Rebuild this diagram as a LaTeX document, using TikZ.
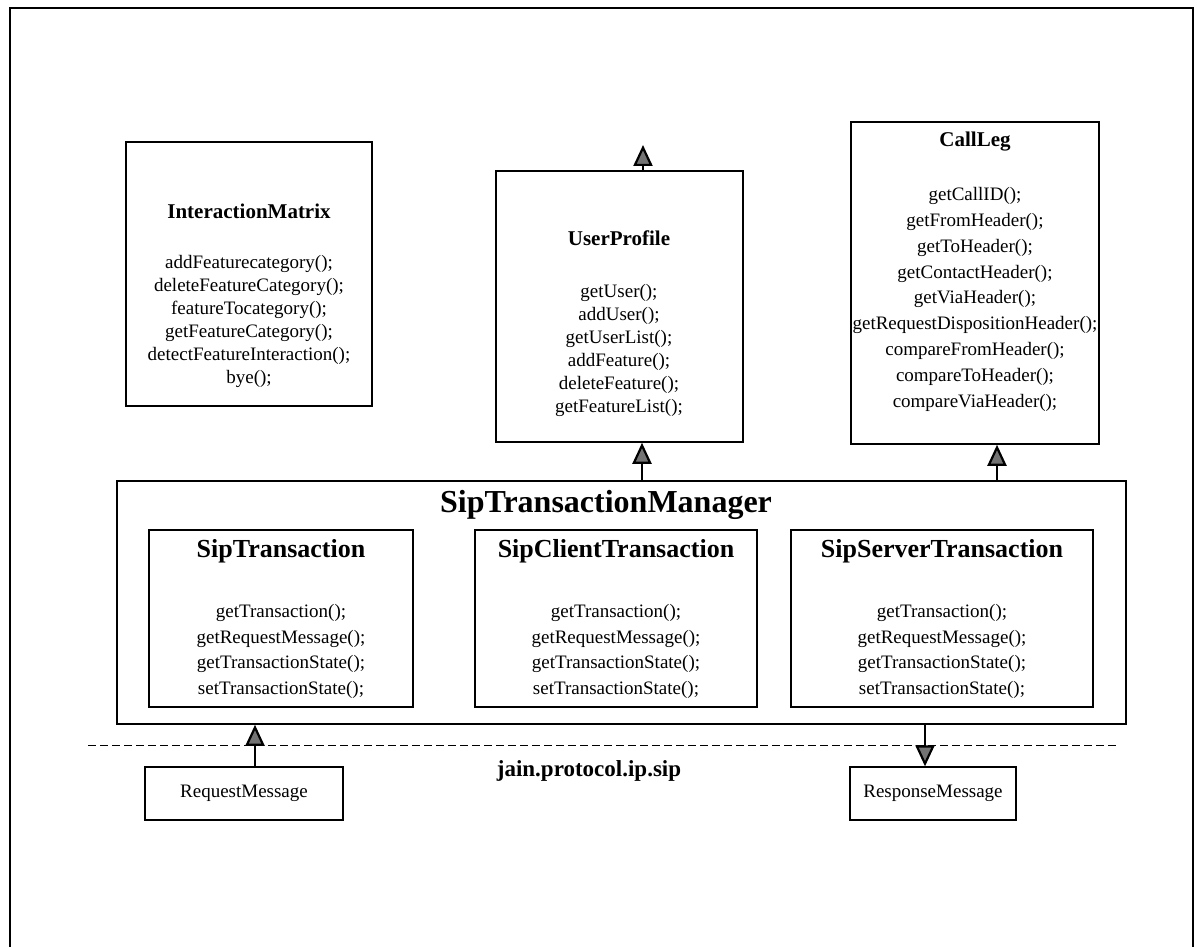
\documentclass[tikz,border=0pt]{standalone}
\usepackage{fontspec}
\setmainfont{Liberation Serif}
\usetikzlibrary{arrows.meta}
\begin{document}
\begin{tikzpicture}[x=1pt,y=-1pt,
  box/.style={draw=black,line width=1.6pt,inner sep=0pt,fill=white},
  msgbox/.style={draw=black,line width=1.3pt,inner sep=0pt},
  ttl/.style={font=\bfseries\fontsize{21}{24}\selectfont,inner sep=0pt},
  subttl/.style={font=\bfseries\fontsize{26}{30}\selectfont,inner sep=0pt},
  mth/.style={font=\fontsize{19}{25.7}\selectfont,align=center,inner sep=0pt,anchor=north},
  mthtight/.style={mth,font=\fontsize{19}{23}\selectfont},
  flow/.style={line width=2.2pt,-{Triangle[width=19pt,length=21pt,fill=black!55]}}
]
\useasboundingbox (0,0) rectangle (1197,947);
% outer frame, open at the bottom
\draw[line width=1.6pt] (10,947) -- (10,8) -- (1193,8) -- (1193,947);

% upper classes
\node[box,minimum width=246pt,minimum height=264pt] (im) at (249,274) {};
\node[ttl] (imt) at (249,211) {InteractionMatrix};
\node[mthtight] (imm) at (249,255) {addFeaturecategory();\\deleteFeatureCategory();\\featureTocategory();\\getFeatureCategory();\\detectFeatureInteraction();\\bye();};

\node[box,minimum width=247pt,minimum height=271pt] (up) at (619.5,306.5) {};
\node[ttl] (upt) at (619,238) {UserProfile};
\node[mthtight] (upm) at (619,284) {getUser();\\addUser();\\getUserList();\\addFeature();\\deleteFeature();\\getFeatureList();};

\node[box,minimum width=248pt,minimum height=322pt] (cl) at (975,283) {};
\node[ttl] (clt) at (975,142) {CallLeg};
\node[mth,font=\fontsize{19}{25.9}\selectfont] (clm) at (975,187) {getCallID();\\getFromHeader();\\getToHeader();\\getContactHeader();\\getViaHeader();\\getRequestDispositionHeader();\\compareFromHeader();\\compareToHeader();\\compareViaHeader();};

% transaction manager and its transactions
\node[box,minimum width=1009pt,minimum height=243pt] (mgr) at (621.5,602.5) {};
\node[font=\bfseries\fontsize{32}{36}\selectfont,inner sep=0pt] (mgrt) at (606,505) {SipTransactionManager};

\node[box,minimum width=264pt,minimum height=177pt] (st) at (281,618.5) {};
\node[subttl] (stt) at (281,551) {SipTransaction};
\node[mth] (stm) at (281,604) {getTransaction();\\getRequestMessage();\\getTransactionState();\\setTransactionState();};

\node[box,minimum width=282pt,minimum height=177pt] (sct) at (616,618.5) {};
\node[subttl] (sctt) at (616,551) {SipClientTransaction};
\node[mth] (sctm) at (616,604) {getTransaction();\\getRequestMessage();\\getTransactionState();\\setTransactionState();};

\node[box,minimum width=302pt,minimum height=177pt] (sst) at (942,618.5) {};
\node[subttl] (sstt) at (942,551) {SipServerTransaction};
\node[mth] (sstm) at (942,604) {getTransaction();\\getRequestMessage();\\getTransactionState();\\setTransactionState();};

% package boundary
\coordinate (dl) at (88,745);
\coordinate (dr) at (1117,745);
\draw[line width=1pt,dash pattern=on 8pt off 4pt] (dl) -- (dr);
\node[font=\bfseries\fontsize{23}{26}\selectfont,inner sep=0pt] (pkg) at (589,771) {jain.protocol.ip.sip};

\node[msgbox,minimum width=198pt,minimum height=53pt,font=\fontsize{19}{22}\selectfont] (req) at (244,793.5) {RequestMessage};
\node[msgbox,minimum width=166pt,minimum height=53pt,font=\fontsize{19}{22}\selectfont] (resp) at (933,793.5) {ResponseMessage};

% dependencies
\coordinate (upout) at (643,145);
\draw[flow] (up.north -| upout) -- (upout);
\draw[flow] (mgr.north -| 642,0) -- (up.south -| 642,0);
\draw[flow] (mgr.north -| 997,0) -- (cl.south -| 997,0);
\draw[flow] (req.north -| 255,0) -- (mgr.south -| 255,0);
\draw[flow] (mgr.south -| 925,0) -- (resp.north -| 925,0);
\end{tikzpicture}
\end{document}
